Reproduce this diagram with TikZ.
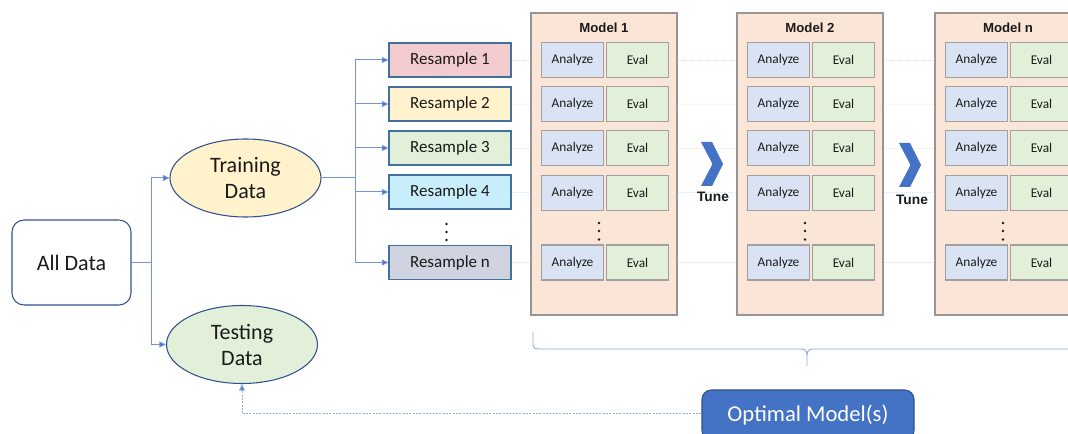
\documentclass[tikz,border=0pt]{standalone}
\usepackage{fontspec}
\setmainfont{Carlito}
\newfontfamily\arialf{Liberation Sans}
\usetikzlibrary{shapes.geometric,arrows.meta,calc}
\definecolor{bdr}{HTML}{2F528F}
\definecolor{rsbdr}{HTML}{41719C}
\definecolor{trainfill}{HTML}{FFF2CC}
\definecolor{testfill}{HTML}{E2F0D9}
\definecolor{rsA}{HTML}{F2CBCE}
\definecolor{rsB}{HTML}{FFF2CC}
\definecolor{rsC}{HTML}{E2F0D9}
\definecolor{rsD}{HTML}{C9EEFB}
\definecolor{rsN}{HTML}{D0D4E1}
\definecolor{conn}{HTML}{4472C4}
\definecolor{connl}{HTML}{7094D6}
\definecolor{mgray}{HTML}{969696}
\definecolor{cgray}{HTML}{A0A0A0}
\definecolor{modfill}{HTML}{FBE5D6}
\definecolor{anfill}{HTML}{DAE3F3}
\definecolor{evfill}{HTML}{E2F0D9}
\definecolor{optfill}{HTML}{4472C4}
\definecolor{bracec}{HTML}{8FAADC}
\definecolor{txt}{HTML}{1A1A1A}
\definecolor{lnA}{HTML}{F8D4D4}
\definecolor{lnB}{HTML}{FFF0C0}
\definecolor{lnC}{HTML}{DDEED2}
\definecolor{lnD}{HTML}{CDE7F5}
\definecolor{lnN}{HTML}{DCDCDC}
\tikzset{
  bigfont/.style={font=\fontsize{16.5}{19.5}\selectfont},
  alldbox/.style={draw=bdr, line width=0.8pt, rounded corners=9pt, minimum width=89.25pt, minimum height=63.75pt, inner sep=0pt, bigfont, text=txt},
  ellbox/.style={ellipse, draw=bdr, line width=0.8pt, minimum width=113.25pt, minimum height=58.5pt, inner sep=0pt, align=center, bigfont, text=txt},
  rsbox/.style={draw=rsbdr, line width=0.8pt, minimum width=91.5pt, minimum height=25.5pt, inner sep=0pt, font=\fontsize{12.75}{15}\selectfont, text=txt},
  modelbox/.style={draw=mgray, fill=modfill, line width=1pt, minimum width=109.5pt, minimum height=226.5pt, inner sep=0pt},
  cellbox/.style={draw=cgray, line width=0.9pt, minimum width=46.5pt, minimum height=26.25pt, inner sep=0pt, font=\fontsize{10}{12}\selectfont, text=txt},
  titlefont/.style={font=\arialf\bfseries\fontsize{9.9}{12}\selectfont, text=txt},
  line/.style={draw=connl, line width=0.75pt},
  arrowline/.style={draw=connl, line width=0.75pt, -{Triangle[length=5pt,width=4.5pt,fill=conn]}},
  dasharrow/.style={draw=bracec, line width=0.75pt, dash pattern=on 1.5pt off 1pt, -{Triangle[length=5pt,width=4.5pt,fill=conn]}},
  rowline/.style={line width=0.5pt, densely dotted},
  chev/.style={fill=conn},
  bracestyle/.style={draw=bracec, line width=0.7pt},
  optbox/.style={draw=bdr, fill=optfill, line width=0.8pt, rounded corners=7pt, minimum width=159pt, minimum height=37.5pt, inner sep=0pt, font=\fontsize{17}{20}\selectfont, text=white}
}
\begin{document}
\begin{tikzpicture}[x=0.75pt,y=-0.75pt]
\useasboundingbox (0,0) rectangle (1068,434);
\clip (0,0) rectangle (1068,434);
% left part
\node[alldbox] (alld) at (71.5,262.5) {All Data};
\node[ellbox, fill=trainfill] (train) at (245.5,178) {Training\\Data};
\node[ellbox, fill=testfill] (test) at (242,344.5) {Testing\\Data};
\coordinate (j1) at (151,262.5);
\draw[line] (alld.east) -- (j1);
\draw[arrowline] (j1) |- (train.west);
\draw[arrowline] (j1) |- (test.west);
% resamples
\node[rsbox, fill=rsA] (rs1) at (450,60) {Resample 1};
\node[rsbox, fill=rsB] (rs2) at (450,104) {Resample 2};
\node[rsbox, fill=rsC] (rs3) at (450,148) {Resample 3};
\node[rsbox, fill=rsD] (rs4) at (450,192) {Resample 4};
\node[rsbox, fill=rsN] (rsn) at (450,262.5) {Resample n};
\foreach \yy in {224,232,240} \fill[txt] (446.5,\yy) circle (1.3);
\coordinate (j2) at (355,178);
\draw[line] (train.east) -- (j2);
\foreach \r in {1,2,3,4,n} \draw[arrowline] (j2) |- (rs\r.west);
% faint row lines
\coordinate (rend) at (1080,0);
\draw[rowline, lnA] (rs1.east) -- (rs1.east -| rend);
\draw[rowline, lnB] (rs2.east) -- (rs2.east -| rend);
\draw[rowline, lnC] (rs3.east) -- (rs3.east -| rend);
\draw[rowline, lnD] (rs4.east) -- (rs4.east -| rend);
\draw[rowline, lnN] (rsn.east) -- (rsn.east -| rend);
% models
\foreach \mx/\m in {531/1, 737/2, 935/n} {
  \node[modelbox] (mod\m) at (\mx+73,164) {};
  \node[titlefont] (mt\m) at (\mx+73,28) {Model \m};
  \foreach \r/\ry in {1/60, 2/104, 3/148, 4/193, n/262.5} {
    \node[cellbox, fill=anfill] (an-\m-\r) at (\mx+41.5,\ry) {Analyze};
    \node[cellbox, fill=evfill] (ev-\m-\r) at (\mx+106.5,\ry) {Eval};
  }
  \foreach \yy in {223,231,239.5} \fill[txt] (\mx+68,\yy) circle (1.3);
}
% chevrons
\fill[chev] (701,142) -- (712,142) -- (723,164) -- (712,186) -- (701,186) -- (712.5,164) -- cycle;
\node[titlefont, font=\arialf\bfseries\fontsize{10.3}{12}\selectfont] (tune1) at (713,197) {Tune};
\fill[chev] (899,143) -- (910,143) -- (921,165) -- (910,187) -- (899,187) -- (910.5,165) -- cycle;
\node[titlefont, font=\arialf\bfseries\fontsize{10.3}{12}\selectfont] (tune2) at (912,200) {Tune};
% brace
\draw[bracestyle] (533,332) -- (533,345) .. controls (533,348) and (535,349) .. (539,349) -- (801,349) .. controls (805,349) and (807,351) .. (807,355) -- (807,366);
\draw[bracestyle] (807,355) .. controls (807,351) and (809,349) .. (813,349) -- (1080,349);
% optimal
\node[optbox] (opt) at (808,415) {Optimal Model(s)};
\coordinate (j3) at (242,414);
\draw[dasharrow] (opt.west |- j3) -- (j3) -- (test.south);
\end{tikzpicture}
\end{document}
